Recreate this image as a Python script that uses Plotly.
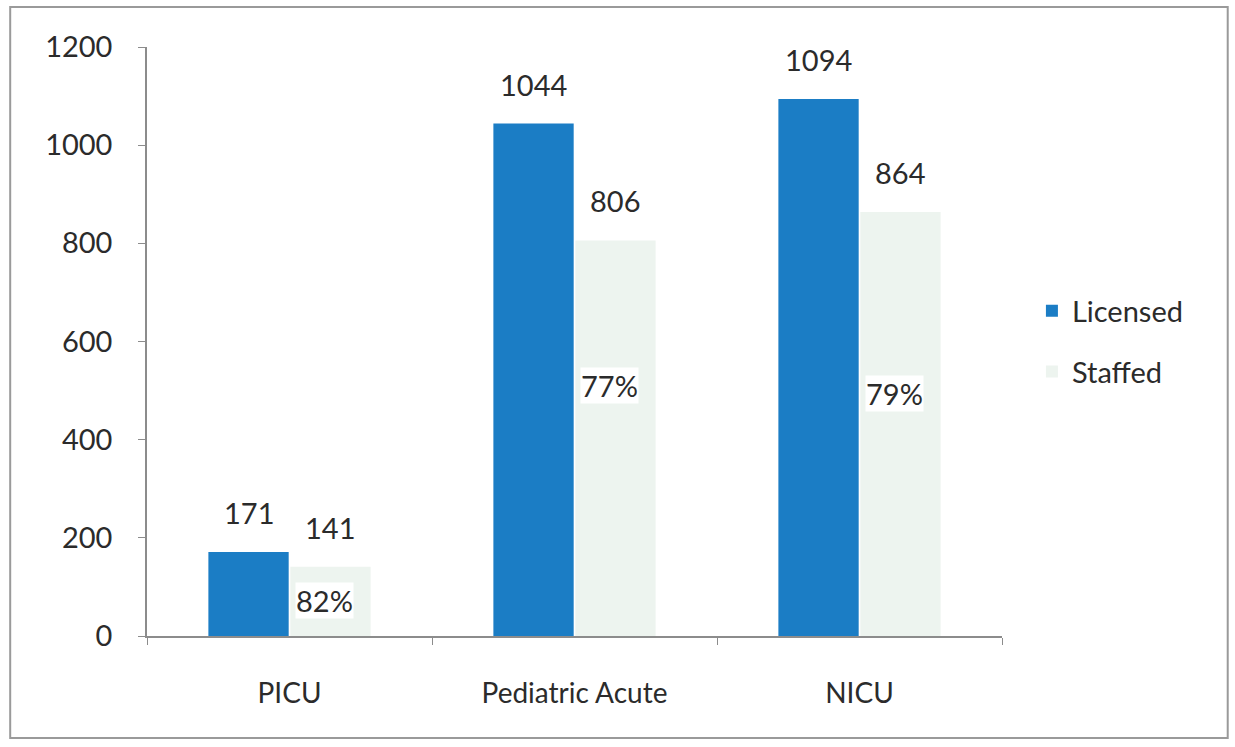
import plotly.graph_objects as go

categories = ["PICU", "Pediatric Acute", "NICU"]
licensed = [171, 1044, 1094]
staffed = [141, 806, 864]
pct_labels = ["82%", "77%", "79%"]
pct_label_y = [73, 511, 495]
y_ticks = [0, 200, 400, 600, 800, 1000, 1200]

BLUE = "#1b7dc5"
PALE = "#edf4ef"
FONT = "Lato, Open Sans, sans-serif"
TXT = "#2b2b2b"
NUM = 29

fig = go.Figure()
fig.add_trace(go.Bar(x=categories, y=licensed, name="Licensed", legendgroup="a",
                     marker=dict(color=BLUE, line=dict(width=0)), offsetgroup=0))
fig.add_trace(go.Bar(x=categories, y=staffed, name="Staffed", legendgroup="b",
                     marker=dict(color=PALE, line=dict(width=0)), offsetgroup=1))

ann = []
for i, c in enumerate(categories):
    ann.append(dict(x=c, y=licensed[i], xref="x", yref="y", text=str(licensed[i]), showarrow=False,
                    xshift=-41, yanchor="bottom", yshift=20, font=dict(size=NUM, color=TXT, family=FONT)))
    ann.append(dict(x=c, y=staffed[i], xref="x", yref="y", text=str(staffed[i]), showarrow=False,
                    xshift=40, yanchor="bottom", yshift=20, font=dict(size=NUM, color=TXT, family=FONT)))
    ann.append(dict(x=c, y=pct_label_y[i], xref="x", yref="y", text=pct_labels[i], showarrow=False,
                    xanchor="left", xshift=5, bgcolor="white", borderpad=0,
                    font=dict(size=NUM, color=TXT, family=FONT)))

fig.update_layout(
    width=1235, height=747,
    paper_bgcolor="white", plot_bgcolor="white",
    margin=dict(l=147, r=233, t=47, b=111, autoexpand=False),
    barmode="group", bargap=0.425, bargroupgap=0.02,
    font=dict(family=FONT, color=TXT),
    legend=dict(x=1.035, y=0.50, xanchor="left", yanchor="middle", font=dict(size=29, color=TXT),
                itemsizing="constant", tracegroupgap=20, itemwidth=30),
    annotations=ann,
    shapes=[dict(type="rect", xref="paper", yref="paper", x0=-0.160, x1=1.264, y0=-0.173, y1=1.068,
                 line=dict(color="#9a9a9a", width=2), layer="below")],
    showlegend=True,
)
fig.update_xaxes(showline=True, linecolor="#8c8c8c", linewidth=1.5, ticks="outside", tickson="boundaries",
                 ticklen=7, tickcolor="#8c8c8c", tickfont=dict(size=28, color=TXT, family=FONT),
                 showgrid=False, ticklabelstandoff=32)
fig.update_yaxes(range=[0, 1200], tickvals=y_ticks, showline=True, linecolor="#8c8c8c", linewidth=1.5,
                 ticks="outside", ticklen=7, tickcolor="#8c8c8c", showgrid=False, zeroline=False,
                 tickfont=dict(size=NUM, color=TXT, family=FONT), ticklabelstandoff=20)

fig.write_html("out.html", config={"displayModeBar": False},
               post_script="document.body.style.margin='0px';document.body.style.overflow='hidden';")
